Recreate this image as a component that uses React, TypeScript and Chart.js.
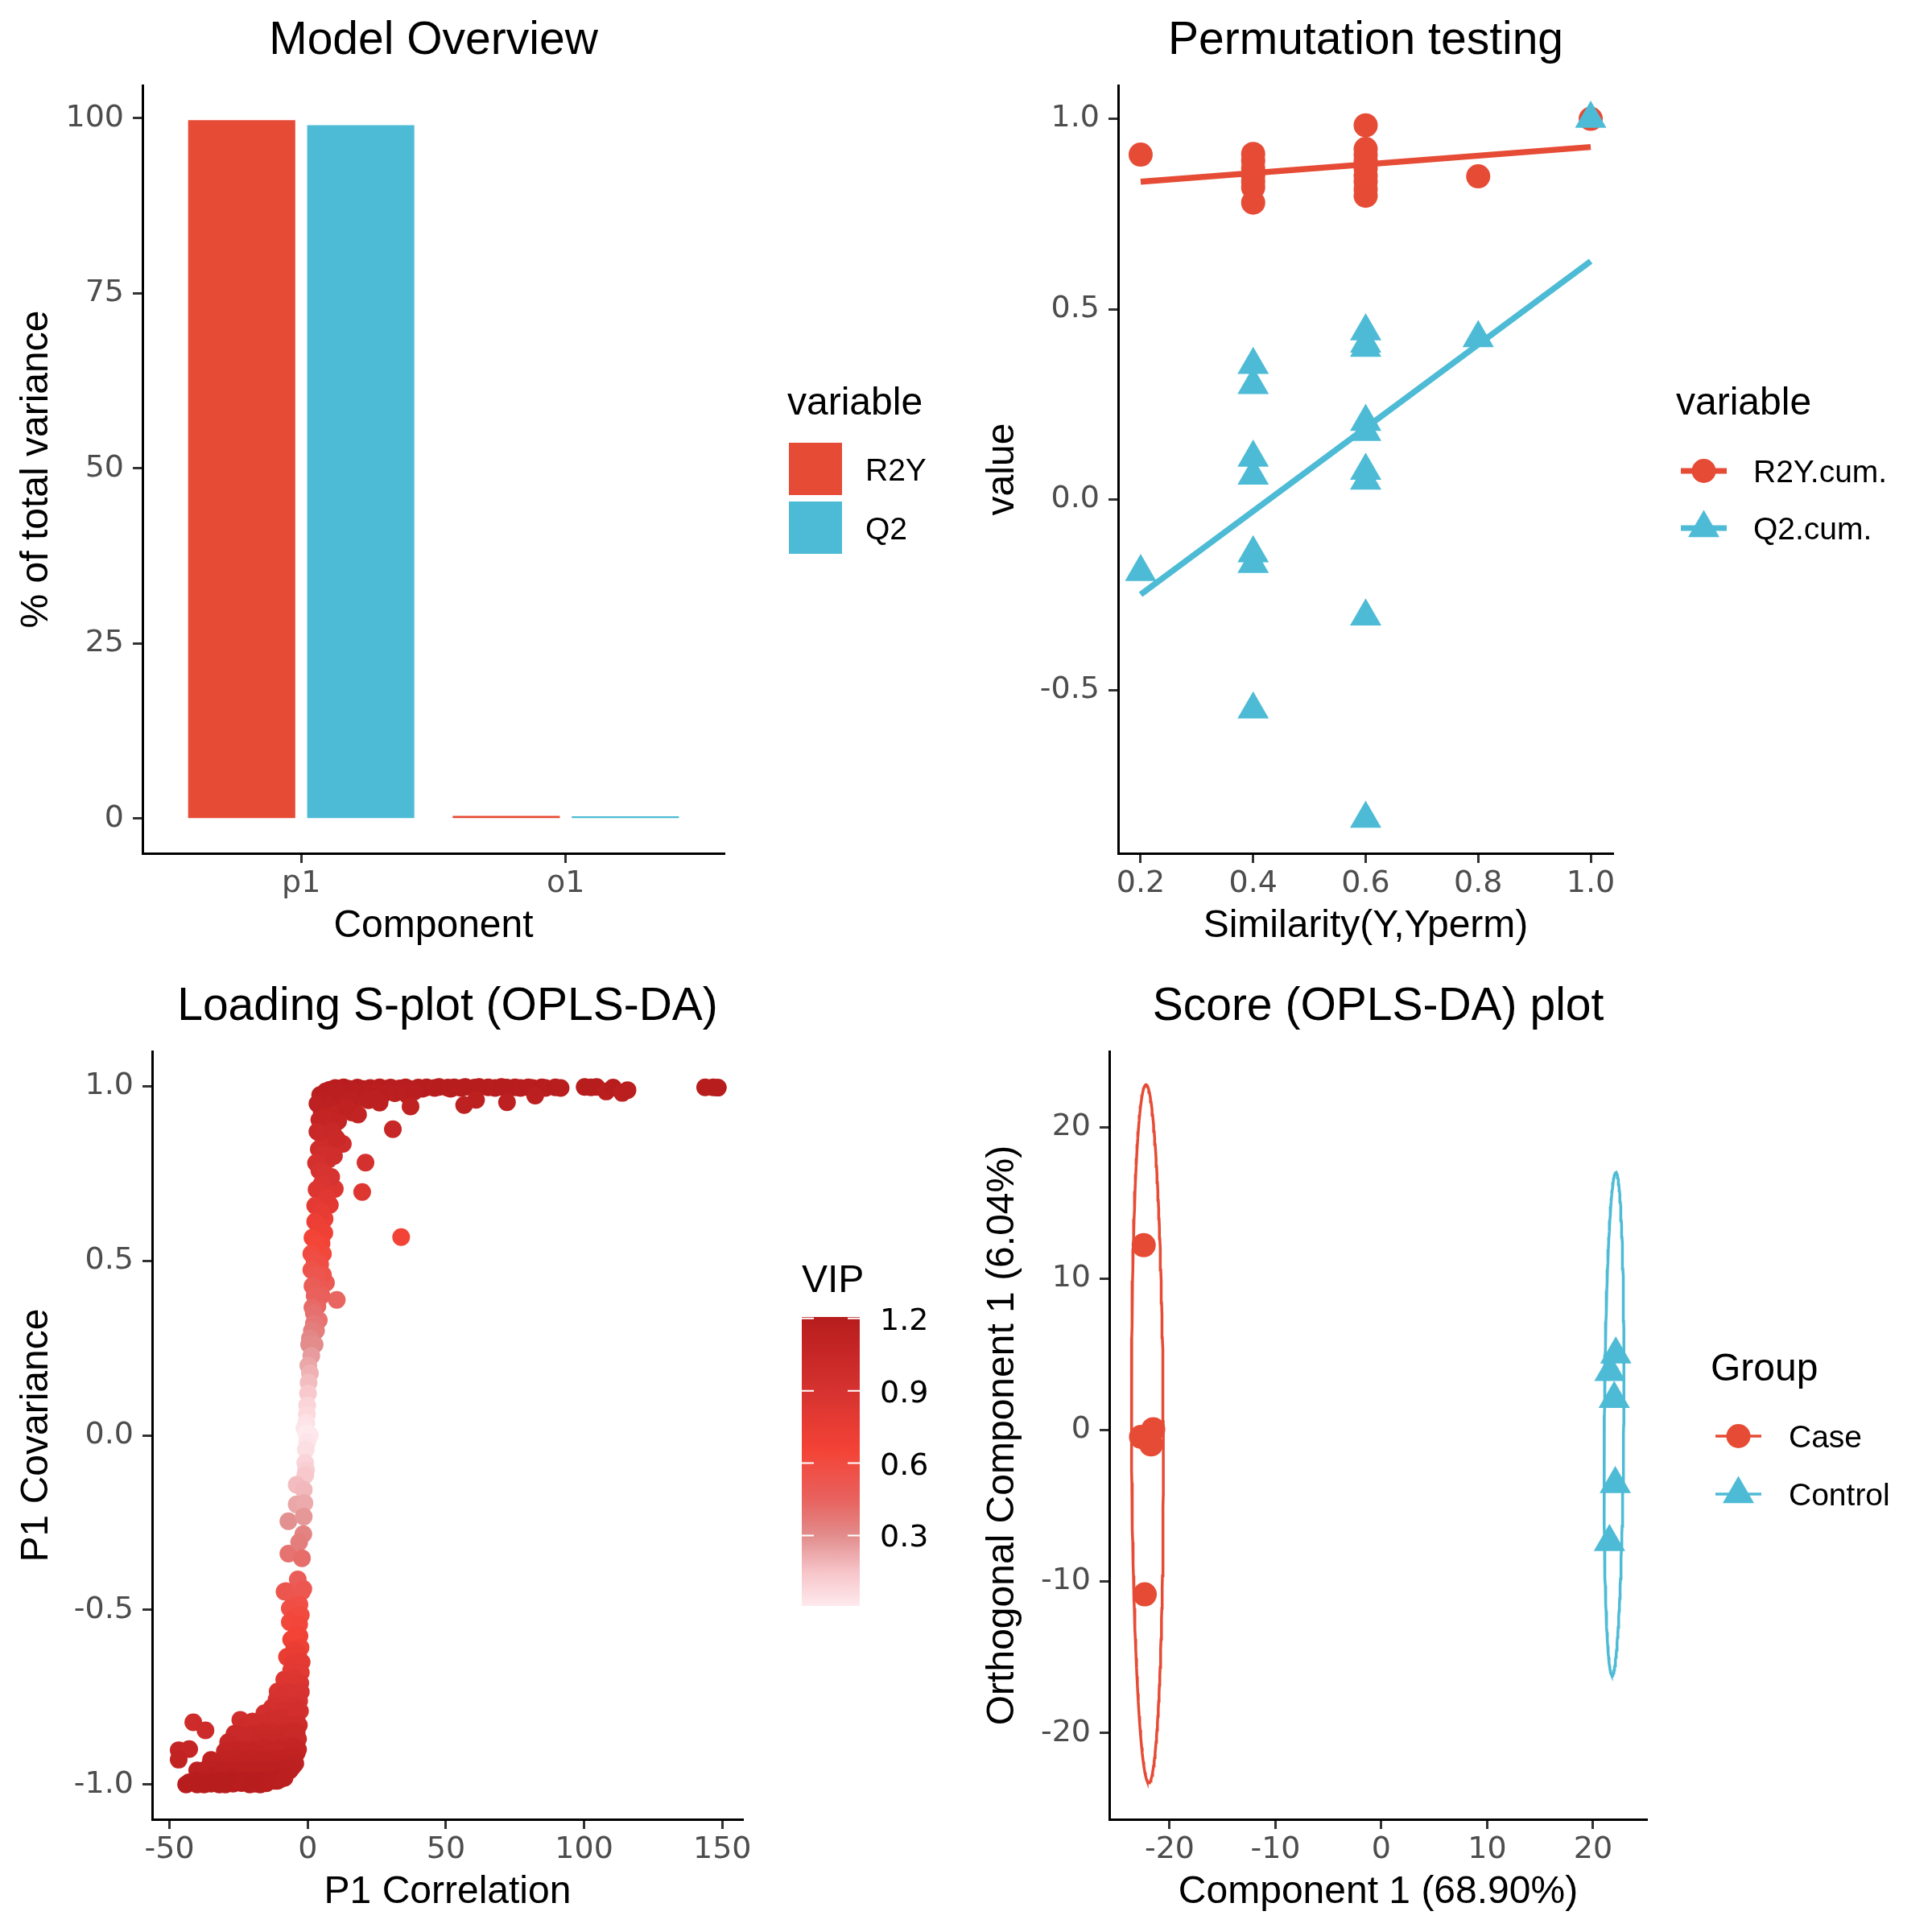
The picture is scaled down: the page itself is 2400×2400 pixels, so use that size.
import React, { useEffect, useRef } from 'react';
import { Chart, registerables } from 'chart.js';

Chart.register(...registerables);

const FONT = "'Liberation Sans', Arial, Helvetica, sans-serif";
const NUM_FONT = "'DejaVu Sans', 'Liberation Sans', sans-serif";
const RED = '#E64B35';
const BLUE = '#4DBBD5';
const TICK_GREY = '#4D4D4D';

// ---------- Panel 1: Model Overview ----------
const componentLabels = ['p1', 'o1'];
const componentPositions = [1, 2];
const r2yVariance = [99.7, 0.35];
const q2Variance = [99.0, 0.3];
const varianceTicks = [0, 25, 50, 75, 100];

// ---------- Panel 2: Permutation testing ----------
const permSimR2Y = [0.2, 0.4, 0.4, 0.4, 0.4, 0.4, 0.4, 0.4, 0.6, 0.6, 0.6, 0.6, 0.6, 0.6, 0.6, 0.6, 0.6, 0.8, 1.0];
const permR2Y = [0.906, 0.908, 0.89, 0.87, 0.85, 0.835, 0.82, 0.78, 0.983, 0.921, 0.905, 0.89, 0.87, 0.85, 0.835, 0.815, 0.798, 0.849, 1.0];
const permSimQ2 = [0.2, 0.4, 0.4, 0.4, 0.4, 0.4, 0.4, 0.4, 0.6, 0.6, 0.6, 0.6, 0.6, 0.6, 0.6, 0.6, 0.6, 0.8, 1.0];
const permQ2 = [-0.19, 0.354, 0.301, 0.11, 0.063, -0.141, -0.169, -0.551, 0.442, 0.41, 0.399, 0.204, 0.178, 0.076, 0.05, -0.307, -0.838, 0.424, 1.0];
const fitSim = [0.2, 1.0];
const fitR2Y = [0.835, 0.926];
const fitQ2 = [-0.2495, 0.626];
const permXTicks = [0.2, 0.4, 0.6, 0.8, 1.0];
const permYTicks = [-0.5, 0, 0.5, 1.0];

// ---------- Panel 3: Loading S-plot ----------
// [P1 correlation, P1 covariance, VIP]
const sPlotUpper = [
  [8.0, 0.990, 1.18], [10.0, 0.995, 1.19], [11.0, 0.989, 1.18], [13.0, 0.997, 1.19], [14.8, 0.993, 1.19],
  [16.3, 0.990, 1.18], [18.0, 0.996, 1.2], [20.0, 0.992, 1.19], [22.6, 0.995, 1.19], [24.0, 0.990, 1.18],
  [26.0, 0.997, 1.2], [28.4, 0.993, 1.19], [30.0, 0.996, 1.19], [33.3, 0.994, 1.19], [35.4, 0.997, 1.2],
  [37.0, 0.992, 1.19], [40.0, 0.996, 1.2], [41.5, 0.993, 1.19], [43.0, 0.997, 1.2], [45.9, 0.995, 1.19],
  [47.5, 0.998, 1.2], [50.7, 0.996, 1.2], [51.7, 0.993, 1.19], [53.0, 0.997, 1.2], [55.6, 0.995, 1.19],
  [57.0, 0.998, 1.2], [60.4, 0.996, 1.2], [62.0, 0.998, 1.2], [65.3, 0.997, 1.2], [67.8, 0.995, 1.19],
  [70.1, 0.998, 1.2], [72.0, 0.996, 1.2], [75.0, 0.997, 1.2], [77.0, 0.995, 1.19], [79.8, 0.997, 1.2],
  [81.3, 0.995, 1.19], [84.7, 0.997, 1.2], [86.0, 0.995, 1.19], [89.6, 0.997, 1.2], [91.5, 0.995, 1.19],
  [100.2, 0.998, 1.2], [102.5, 0.997, 1.2], [104.5, 0.998, 1.2], [108.0, 0.985, 1.18], [110.5, 0.996, 1.2],
  [113.8, 0.981, 1.17], [115.7, 0.989, 1.18], [143.8, 0.997, 1.2], [146.7, 0.997, 1.2], [148.4, 0.996, 1.2],
  [4.5, 0.975, 1.17], [6.5, 0.985, 1.18], [9.5, 0.98, 1.17], [12.5, 0.985, 1.18], [15.5, 0.98, 1.17],
  [17.0, 0.985, 1.18], [19.0, 0.975, 1.17], [21.5, 0.985, 1.18], [23.0, 0.975, 1.17], [25.0, 0.985, 1.18],
  [27.0, 0.975, 1.17], [29.0, 0.985, 1.18], [31.5, 0.98, 1.17], [34.0, 0.985, 1.18], [36.0, 0.975, 1.17],
  [38.5, 0.985, 1.18], [7.0, 0.96, 1.15], [11.0, 0.955, 1.15], [13.5, 0.96, 1.15], [16.5, 0.945, 1.13],
  [22.0, 0.96, 1.15], [24.5, 0.965, 1.16], [5.0, 0.93, 1.12], [7.5, 0.93, 1.12], [12.0, 0.93, 1.12],
  [16.0, 0.925, 1.11],
  [56.6, 0.946, 1.14], [60.9, 0.961, 1.16], [72.1, 0.954, 1.15], [82.3, 0.973, 1.17], [37.2, 0.942, 1.13],
  [26.0, 0.953, 1.15], [18.2, 0.919, 1.1], [30.8, 0.877, 1.05], [20.9, 0.781, 0.93], [19.7, 0.697, 0.83],
  [33.8, 0.568, 0.66], [12.7, 0.835, 0.99], [9.8, 0.706, 0.84], [6.6, 0.437, 0.5], [10.5, 0.388, 0.44],
  [6.1, 0.62, 0.72],
  [5.6, 0.958, 1.15], [3.5, 0.95, 1.14], [4.2, 0.904, 1.08], [7.1, 0.881, 1.06], [8.0, 0.97, 1.17],
  [9.0, 0.95, 1.14], [12.0, 0.975, 1.17], [15.0, 0.96, 1.15], [10.0, 0.92, 1.1], [6.0, 0.91, 1.09],
  [8.5, 0.895, 1.07], [11.0, 0.9, 1.08], [14.0, 0.94, 1.13], [3.5, 0.87, 1.04], [6.1, 0.842, 1.01],
  [5.0, 0.86, 1.03], [8.0, 0.83, 0.99], [4.0, 0.82, 0.98], [5.1, 0.804, 0.96], [7.5, 0.79, 0.94],
  [9.0, 0.87, 1.04], [10.5, 0.85, 1.02], [9.5, 0.8, 0.96], [8.5, 0.74, 0.89], [8.0, 0.66, 0.79],
  [3.0, 0.78, 0.93], [4.2, 0.758, 0.9], [6.0, 0.75, 0.89], [5.0, 0.72, 0.86], [3.2, 0.704, 0.84],
  [7.0, 0.68, 0.81], [2.7, 0.658, 0.78], [5.0, 0.64, 0.76], [2.7, 0.612, 0.72], [4.0, 0.6, 0.71],
  [6.0, 0.58, 0.69], [5.0, 0.55, 0.66], [5.5, 0.52, 0.62], [4.5, 0.49, 0.58], [5.5, 0.46, 0.55],
  [4.0, 0.43, 0.51], [5.0, 0.4, 0.47], [3.5, 0.37, 0.44], [4.0, 0.33, 0.39], [3.0, 0.3, 0.35],
  [1.7, 0.566, 0.66], [3.0, 0.55, 0.64], [1.3, 0.52, 0.6], [2.5, 0.5, 0.58], [1.3, 0.474, 0.55],
  [3.0, 0.46, 0.53], [1.7, 0.428, 0.49], [2.5, 0.4, 0.46], [1.7, 0.366, 0.42], [2.2, 0.35, 0.4],
];
const sPlotStem = [
  [2.2, 0.32, 0.37], [1.5, 0.3, 0.35], [0.8, 0.278, 0.32], [2.5, 0.26, 0.3], [0.5, 0.26, 0.3],
  [1.3, 0.228, 0.26], [0.2, 0.2, 0.23], [0.8, 0.178, 0.2], [0.3, 0.151, 0.17], [0.1, 0.12, 0.13],
  [-0.2, 0.086, 0.09], [-0.3, 0.06, 0.07], [-0.5, 0.036, 0.04], [-1.2, 0.02, 0.03], [0.8, 0.0, 0.02],
  [-0.5, 0.005, 0.01], [-0.2, -0.02, 0.03], [-0.7, -0.041, 0.05], [-0.9, -0.079, 0.09], [-0.6, -0.1, 0.11],
  [-0.9, -0.114, 0.13], [-4.0, -0.142, 0.17], [-1.45, -0.156, 0.18], [-4.0, -0.198, 0.23], [-1.2, -0.194, 0.22],
  [-7.0, -0.246, 0.29], [-1.45, -0.233, 0.27], [-1.6, -0.283, 0.33], [-7.0, -0.339, 0.39], [-3.1, -0.306, 0.35],
  [-2.1, -0.352, 0.41], [-3.6, -0.413, 0.48], [-7.9, -0.446, 0.52], [-1.6, -0.44, 0.51], [-5.0, -0.471, 0.55],
];
const sPlotLower = [
  [-8.4, -0.448, 0.53], [-2.1, -0.448, 0.52], [-3.0, -0.485, 0.57], [-6.5, -0.496, 0.58], [-4.5, -0.52, 0.61],
  [-2.5, -0.515, 0.6], [-6.5, -0.535, 0.62], [-3.1, -0.542, 0.63], [-6.0, -0.585, 0.69], [-3.0, -0.575, 0.68],
  [-4.5, -0.573, 0.66], [-2.6, -0.608, 0.7], [-5.0, -0.615, 0.73], [-3.5, -0.625, 0.74], [-7.5, -0.635, 0.74],
  [-3.6, -0.65, 0.76], [-5.5, -0.655, 0.78], [-2.2, -0.65, 0.78], [-6.0, -0.673, 0.79], [-3.6, -0.704, 0.82],
  [-2.5, -0.68, 0.8], [-8.5, -0.7, 0.84], [-5.0, -0.695, 0.83], [-2.7, -0.71, 0.85], [-10.9, -0.734, 0.87],
  [-6.5, -0.711, 0.84], [-9.0, -0.745, 0.89], [-7.0, -0.735, 0.88], [-5.0, -0.74, 0.89], [-2.5, -0.735, 0.88],
  [-3.1, -0.761, 0.9], [-8.0, -0.75, 0.89], [-11.3, -0.757, 0.9], [-13.0, -0.78, 0.94], [-11.0, -0.775, 0.93],
  [-8.0, -0.77, 0.92], [-5.0, -0.775, 0.93], [-3.5, -0.78, 0.94], [-15.7, -0.796, 0.95], [-9.4, -0.788, 0.94],
  [-4.1, -0.811, 0.96], [-6.5, -0.79, 0.94], [-2.8, -0.79, 0.93], [-24.4, -0.815, 0.97], [-18.1, -0.826, 0.98],
  [-22.0, -0.83, 1.0], [-20.0, -0.82, 0.98], [-15.0, -0.82, 0.98], [-13.5, -0.815, 0.98], [-10.5, -0.81, 0.97],
  [-7.0, -0.81, 0.97], [-4.0, -0.79, 0.95], [-41.4, -0.822, 0.98], [-37.0, -0.845, 1.0], [-12.3, -0.849, 1.01],
  [-8.4, -0.826, 0.98], [-5.0, -0.83, 0.99], [-3.2, -0.83, 0.98], [-26.5, -0.855, 1.03], [-24.0, -0.86, 1.03],
  [-20.0, -0.855, 1.03], [-16.0, -0.85, 1.02], [-12.0, -0.86, 1.03], [-9.0, -0.855, 1.03], [-6.0, -0.85, 1.02],
  [-4.0, -0.85, 1.02], [-28.8, -0.879, 1.05], [-22.0, -0.864, 1.03], [-18.0, -0.87, 1.04], [-14.3, -0.871, 1.04],
  [-10.0, -0.87, 1.04], [-7.0, -0.87, 1.04], [-5.0, -0.857, 1.02], [-3.5, -0.87, 1.03], [-30.0, -0.905, 1.09],
  [-27.5, -0.9, 1.08], [-23.5, -0.9, 1.08], [-19.5, -0.9, 1.08], [-16.0, -0.895, 1.07], [-12.0, -0.9, 1.08],
  [-8.5, -0.9, 1.08], [-5.5, -0.89, 1.07], [-3.5, -0.9, 1.08], [-46.7, -0.902, 1.08], [-42.9, -0.899, 1.07],
  [-46.7, -0.929, 1.11], [-25.9, -0.917, 1.1], [-21.0, -0.91, 1.09], [-18.1, -0.911, 1.09], [-14.0, -0.91, 1.09],
  [-10.4, -0.895, 1.07], [-6.5, -0.917, 1.1], [-4.0, -0.91, 1.08], [-35.0, -0.93, 1.12], [-30.5, -0.93, 1.12],
  [-28.0, -0.925, 1.11], [-23.0, -0.93, 1.12], [-20.0, -0.925, 1.11], [-16.5, -0.93, 1.12], [-13.0, -0.93, 1.12],
  [-11.0, -0.925, 1.11], [-8.5, -0.93, 1.12], [-5.0, -0.925, 1.11], [-32.6, -0.94, 1.12], [-29.8, -0.955, 1.14],
  [-27.0, -0.94, 1.12], [-24.0, -0.94, 1.12], [-22.0, -0.955, 1.14], [-19.0, -0.94, 1.12], [-15.2, -0.955, 1.14],
  [-12.0, -0.94, 1.12], [-10.4, -0.948, 1.13], [-6.0, -0.948, 1.13], [-4.5, -0.94, 1.12], [-40.0, -0.96, 1.15],
  [-38.0, -0.965, 1.16], [-33.0, -0.96, 1.15], [-28.5, -0.96, 1.15], [-25.0, -0.96, 1.15], [-21.0, -0.96, 1.15],
  [-18.0, -0.96, 1.15], [-14.0, -0.96, 1.15], [-11.0, -0.96, 1.15], [-8.0, -0.955, 1.15], [-5.5, -0.95, 1.14],
  [-42.9, -0.994, 1.19], [-36.5, -0.955, 1.14], [-34.6, -0.978, 1.17], [-31.0, -0.97, 1.16], [-26.9, -0.978, 1.17],
  [-23.0, -0.97, 1.16], [-20.1, -0.97, 1.16], [-16.0, -0.97, 1.16], [-12.0, -0.97, 1.16], [-9.0, -0.975, 1.16],
  [-6.5, -0.96, 1.15], [-41.0, -0.99, 1.19], [-38.5, -0.99, 1.19], [-33.5, -0.99, 1.19], [-30.5, -0.99, 1.19],
  [-28.0, -0.99, 1.19], [-25.5, -0.99, 1.19], [-22.5, -0.99, 1.19], [-20.0, -0.99, 1.19], [-18.0, -0.99, 1.19],
  [-16.0, -0.99, 1.19], [-14.0, -0.99, 1.19], [-12.0, -0.99, 1.19], [-10.0, -0.985, 1.18],
  [-44.0, -1.0, 1.2], [-40.0, -1.0, 1.2], [-37.5, -1.0, 1.2], [-35.0, -0.998, 1.2], [-32.0, -1.0, 1.2],
  [-29.8, -1.0, 1.2], [-27.0, -0.998, 1.2], [-24.0, -0.996, 1.19], [-21.0, -1.0, 1.2], [-19.0, -0.998, 1.2],
  [-17.2, -1.0, 1.2], [-15.0, -0.997, 1.19], [-13.3, -0.985, 1.18], [-11.0, -0.99, 1.18], [-8.4, -0.981, 1.17],
];
const sXTicks = [-50, 0, 50, 100, 150];
const sYTicks = [-1, -0.5, 0, 0.5, 1];
const vipTicks = [0.3, 0.6, 0.9, 1.2];
const vipRange = [0.008, 1.206];
const vipGradient: [number, number[]][] = [
  [0.0, [255, 236, 240]],
  [0.15, [246, 196, 200]],
  [0.3, [226, 140, 140]],
  [0.45, [232, 98, 94]],
  [0.65, [244, 67, 54]],
  [0.9, [214, 50, 48]],
  [1.21, [183, 28, 28]],
];

// ---------- Panel 4: Score plot ----------
const caseComp1 = [-22.45, -21.55, -22.7, -21.75, -22.35];
const caseOrth1 = [12.2, 0.05, -0.45, -0.95, -10.85];
const controlComp1 = [22.15, 21.6, 22.0, 22.1, 21.55];
const controlOrth1 = [4.99, 3.84, 2.06, -3.57, -7.39];
// ellipse parameters: [case, control]
const ellipseCenterX = [-22.1, 21.98];
const ellipseCenterY = [-0.25, 0.4];
const ellipseHalfWidth = [1.5, 0.92];
const ellipseHalfHeight = [23.05, 16.6];
const ellipseShear = [-0.13, 0.18];
const scoreTicks = [-20, -10, 0, 10, 20];

// ---------- helpers ----------
function vipColor(v: number): string {
  const g = vipGradient;
  if (v <= g[0][0]) return `rgb(${g[0][1].join(',')})`;
  for (let i = 1; i < g.length; i++) {
    if (v <= g[i][0]) {
      const t = (v - g[i - 1][0]) / (g[i][0] - g[i - 1][0]);
      const a = g[i - 1][1];
      const b = g[i][1];
      const c = a.map((av, k) => Math.round(av + (b[k] - av) * t));
      return `rgb(${c.join(',')})`;
    }
  }
  return `rgb(${g[g.length - 1][1].join(',')})`;
}

function axis(o: any) {
  const isX = o.pos === 'bottom';
  return {
    type: 'linear',
    position: o.pos,
    min: o.min,
    max: o.max,
    offset: false,
    afterBuildTicks: (s: any) => {
      s.ticks = o.ticks.map((v: number) => ({ value: v }));
    },
    afterFit: (s: any) => {
      if (isX) s.height = o.size;
      else s.width = o.size;
    },
    grid: {
      display: true,
      offset: false,
      drawOnChartArea: false,
      drawTicks: true,
      tickLength: 12,
      tickWidth: 3,
      tickColor: '#333333',
    },
    border: { display: true, color: '#000000', width: 3 },
    ticks: {
      autoSkip: false,
      maxRotation: 0,
      minRotation: 0,
      padding: isX ? 3 : 11,
      color: TICK_GREY,
      font: { family: NUM_FONT, size: 38 },
      callback: (v: any) => o.fmt(Number(v)),
    },
    title: {
      display: true,
      text: o.title,
      color: '#000000',
      font: { family: FONT, size: 48 },
      padding: isX ? { top: 0, bottom: 20 } : { top: 17, bottom: 0 },
    },
  };
}

function baseOptions(title: string, padRight: number, scales: any) {
  return {
    responsive: false,
    maintainAspectRatio: false,
    animation: false,
    devicePixelRatio: 1,
    events: [],
    layout: { padding: { left: 0, top: 0, right: padRight, bottom: 0 } },
    plugins: {
      legend: { display: false },
      tooltip: { enabled: false },
      title: {
        display: true,
        text: title,
        fullSize: false,
        align: 'center',
        color: '#000000',
        font: { family: FONT, size: 57, weight: 'normal', lineHeight: 1.2 },
        padding: { top: 17, bottom: 20.6 },
      },
    },
    scales,
  };
}

function drawTriangle(ctx: CanvasRenderingContext2D, x: number, y: number, r: number) {
  ctx.beginPath();
  ctx.moveTo(x, y - r);
  ctx.lineTo(x + r * 0.866, y + r * 0.5);
  ctx.lineTo(x - r * 0.866, y + r * 0.5);
  ctx.closePath();
  ctx.fill();
}

function legendPlugin(spec: any) {
  return {
    id: 'ggLegend',
    afterDraw(chart: any) {
      const ctx: CanvasRenderingContext2D = chart.ctx;
      ctx.save();
      ctx.textAlign = 'left';
      ctx.textBaseline = 'alphabetic';
      ctx.fillStyle = '#000000';
      ctx.font = `48px ${FONT}`;
      ctx.fillText(spec.title, spec.titleX, spec.titleBaseline);
      spec.items.forEach((item: any, i: number) => {
        const cy = spec.rowCenters[i];
        if (item.kind === 'rect') {
          ctx.fillStyle = item.color;
          ctx.fillRect(spec.keyX0, cy - 32.5, spec.keyX1 - spec.keyX0, 65);
        } else {
          ctx.strokeStyle = item.color;
          ctx.lineWidth = spec.lineWidth;
          ctx.beginPath();
          ctx.moveTo(spec.keyX0, cy);
          ctx.lineTo(spec.keyX1, cy);
          ctx.stroke();
          ctx.fillStyle = item.color;
          const cx = (spec.keyX0 + spec.keyX1) / 2;
          if (item.kind === 'circle') {
            ctx.beginPath();
            ctx.arc(cx, cy, 15, 0, Math.PI * 2);
            ctx.fill();
          } else {
            drawTriangle(ctx, cx, cy, 22.5);
          }
        }
        ctx.fillStyle = '#000000';
        ctx.font = `39px ${FONT}`;
        ctx.fillText(item.label, spec.labelX, cy + 14);
      });
      ctx.restore();
    },
  };
}

const colorbarPlugin = {
  id: 'vipColorbar',
  afterDraw(chart: any) {
    const ctx: CanvasRenderingContext2D = chart.ctx;
    const x0 = 996;
    const x1 = 1068;
    const yTop = 436;
    const yBot = 795;
    const vmin = vipRange[0];
    const vmax = vipRange[1];
    const yOf = (v: number) => yBot - ((v - vmin) / (vmax - vmin)) * (yBot - yTop);
    ctx.save();
    const grad = ctx.createLinearGradient(0, yBot, 0, yTop);
    const n = 60;
    for (let k = 0; k <= n; k++) {
      const v = vmin + ((vmax - vmin) * k) / n;
      grad.addColorStop(k / n, vipColor(v));
    }
    ctx.fillStyle = grad;
    ctx.fillRect(x0, yTop, x1 - x0, yBot - yTop);
    ctx.strokeStyle = '#ffffff';
    ctx.lineWidth = 2;
    vipTicks.forEach((v) => {
      const y = yOf(v);
      ctx.beginPath();
      ctx.moveTo(x0, y);
      ctx.lineTo(x0 + 15, y);
      ctx.moveTo(x1 - 15, y);
      ctx.lineTo(x1, y);
      ctx.stroke();
    });
    ctx.fillStyle = '#000000';
    ctx.textAlign = 'left';
    ctx.textBaseline = 'alphabetic';
    ctx.font = `48px ${FONT}`;
    ctx.fillText('VIP', 996, 405);
    ctx.font = `38px ${NUM_FONT}`;
    vipTicks.forEach((v) => {
      ctx.fillText(v.toFixed(1), 1093, yOf(v) + 14);
    });
    ctx.restore();
  },
};

// ---------- configs ----------
function modelOverviewConfig() {
  return {
    type: 'bar',
    data: {
      datasets: [
        {
          label: 'R2Y',
          data: componentPositions.map((x, i) => ({ x, y: r2yVariance[i] })),
          backgroundColor: RED,
          borderWidth: 0,
          categoryPercentage: 0.9,
          barPercentage: 0.9,
        },
        {
          label: 'Q2',
          data: componentPositions.map((x, i) => ({ x, y: q2Variance[i] })),
          backgroundColor: BLUE,
          borderWidth: 0,
          categoryPercentage: 0.9,
          barPercentage: 0.9,
        },
      ],
    },
    options: baseOptions('Model Overview', 300, {
      x: axis({
        pos: 'bottom', min: 0.4, max: 2.6, ticks: componentPositions,
        fmt: (v: number) => componentLabels[Math.round(v) - 1], title: 'Component', size: 140,
      }),
      y: axis({
        pos: 'left', min: -4.985, max: 104.685, ticks: varianceTicks,
        fmt: (v: number) => String(v), title: '% of total variance', size: 177,
      }),
    }),
    plugins: [
      legendPlugin({
        title: 'variable', titleX: 978, titleBaseline: 515,
        keyX0: 980, keyX1: 1046, rowCenters: [582.5, 655.5], labelX: 1075,
        items: [
          { label: 'R2Y', color: RED, kind: 'rect' },
          { label: 'Q2', color: BLUE, kind: 'rect' },
        ],
      }),
    ],
  };
}

function permutationConfig() {
  return {
    type: 'scatter',
    data: {
      datasets: [
        {
          label: 'R2Y fit',
          data: fitSim.map((x, i) => ({ x, y: fitR2Y[i] })),
          showLine: true, borderColor: RED, borderWidth: 7.5, pointRadius: 0, fill: false, order: 0,
        },
        {
          label: 'Q2 fit',
          data: fitSim.map((x, i) => ({ x, y: fitQ2[i] })),
          showLine: true, borderColor: BLUE, borderWidth: 7.5, pointRadius: 0, fill: false, order: 0,
        },
        {
          label: 'Q2.cum.',
          data: permSimQ2.map((x, i) => ({ x, y: permQ2[i] })),
          pointStyle: 'triangle', pointRadius: 22.5, backgroundColor: BLUE, pointBackgroundColor: BLUE,
          borderWidth: 0, pointBorderWidth: 0, order: 1,
        },
        {
          label: 'R2Y.cum.',
          data: permSimR2Y.map((x, i) => ({ x, y: permR2Y[i] })),
          pointStyle: 'circle', pointRadius: 15, backgroundColor: RED, pointBackgroundColor: RED,
          borderWidth: 0, pointBorderWidth: 0, order: 2,
        },
      ],
    },
    options: baseOptions('Permutation testing', 396, {
      x: axis({
        pos: 'bottom', min: 0.16, max: 1.04, ticks: permXTicks,
        fmt: (v: number) => v.toFixed(1), title: 'Similarity(Y,Yperm)', size: 140,
      }),
      y: axis({
        pos: 'left', min: -0.929, max: 1.088, ticks: permYTicks,
        fmt: (v: number) => v.toFixed(1), title: 'value', size: 189,
      }),
    }),
    plugins: [
      legendPlugin({
        title: 'variable', titleX: 882, titleBaseline: 515,
        keyX0: 888, keyX1: 945, rowCenters: [585, 656], labelX: 978, lineWidth: 7,
        items: [
          { label: 'R2Y.cum.', color: RED, kind: 'circle' },
          { label: 'Q2.cum.', color: BLUE, kind: 'triangle' },
        ],
      }),
    ],
  };
}

function sPlotConfig() {
  const pts = [...sPlotUpper, ...sPlotStem, ...sPlotLower];
  const colors = pts.map((p) => vipColor(p[2]));
  return {
    type: 'scatter',
    data: {
      datasets: [
        {
          label: 'S-plot',
          data: pts.map((p) => ({ x: p[0], y: p[1] })),
          pointStyle: 'circle', pointRadius: 11,
          backgroundColor: colors, pointBackgroundColor: colors,
          borderWidth: 0, pointBorderWidth: 0,
        },
      ],
    },
    options: baseOptions('Loading S-plot (OPLS-DA)', 277, {
      x: axis({
        pos: 'bottom', min: -56.3, max: 157.5, ticks: sXTicks,
        fmt: (v: number) => String(v), title: 'P1 Correlation', size: 140,
      }),
      y: axis({
        pos: 'left', min: -1.1, max: 1.1, ticks: sYTicks,
        fmt: (v: number) => v.toFixed(1), title: 'P1 Covariance', size: 189,
      }),
    }),
    plugins: [colorbarPlugin],
  };
}

function ellipsePoints(i: number) {
  const out: { x: number; y: number }[] = [];
  const n = 180;
  for (let k = 0; k <= n; k++) {
    const t = (2 * Math.PI * k) / n;
    out.push({
      x: ellipseCenterX[i] + ellipseHalfWidth[i] * Math.cos(t) + ellipseShear[i] * Math.sin(t),
      y: ellipseCenterY[i] + ellipseHalfHeight[i] * Math.sin(t),
    });
  }
  return out;
}

function scoreConfig() {
  return {
    type: 'scatter',
    data: {
      datasets: [
        {
          label: 'Case ellipse', data: ellipsePoints(0), showLine: true, borderColor: RED,
          borderWidth: 3.5, pointRadius: 0, fill: false, tension: 0, order: 0,
        },
        {
          label: 'Control ellipse', data: ellipsePoints(1), showLine: true, borderColor: BLUE,
          borderWidth: 3.5, pointRadius: 0, fill: false, tension: 0, order: 0,
        },
        {
          label: 'Control',
          data: controlComp1.map((x, i) => ({ x, y: controlOrth1[i] })),
          pointStyle: 'triangle', pointRadius: 22.5, backgroundColor: BLUE, pointBackgroundColor: BLUE,
          borderWidth: 0, pointBorderWidth: 0, order: 1,
        },
        {
          label: 'Case',
          data: caseComp1.map((x, i) => ({ x, y: caseOrth1[i] })),
          pointStyle: 'circle', pointRadius: 15, backgroundColor: RED, pointBackgroundColor: RED,
          borderWidth: 0, pointBorderWidth: 0, order: 2,
        },
      ],
    },
    options: baseOptions('Score (OPLS-DA) plot', 354, {
      x: axis({
        pos: 'bottom', min: -25.7, max: 25.1, ticks: scoreTicks,
        fmt: (v: number) => String(v), title: 'Component 1 (68.90%)', size: 140,
      }),
      y: axis({
        pos: 'left', min: -25.7, max: 25.0, ticks: scoreTicks,
        fmt: (v: number) => String(v), title: 'Orthogonal Component 1 (6.04%)', size: 178,
      }),
    }),
    plugins: [
      legendPlugin({
        title: 'Group', titleX: 925, titleBaseline: 515,
        keyX0: 931, keyX1: 988, rowCenters: [584, 656], labelX: 1022, lineWidth: 3.5,
        items: [
          { label: 'Case', color: RED, kind: 'circle' },
          { label: 'Control', color: BLUE, kind: 'triangle' },
        ],
      }),
    ],
  };
}

function ChartCanvas({ left, top, makeConfig }: any) {
  const ref = useRef<HTMLCanvasElement | null>(null);
  useEffect(() => {
    if (!ref.current) return;
    const chart = new Chart(ref.current, makeConfig());
    return () => chart.destroy();
  }, []);
  return (
    <canvas
      ref={ref}
      width={1200}
      height={1200}
      style={{ position: 'absolute', left, top, width: 1200, height: 1200, display: 'block' }}
    />
  );
}

export default function App() {
  return (
    <div style={{ position: 'absolute', left: 0, top: 0, width: 2400, height: 2400, background: '#ffffff' }}>
      <ChartCanvas left={0} top={0} makeConfig={modelOverviewConfig} />
      <ChartCanvas left={1200} top={0} makeConfig={permutationConfig} />
      <ChartCanvas left={0} top={1200} makeConfig={sPlotConfig} />
      <ChartCanvas left={1200} top={1200} makeConfig={scoreConfig} />
    </div>
  );
}
